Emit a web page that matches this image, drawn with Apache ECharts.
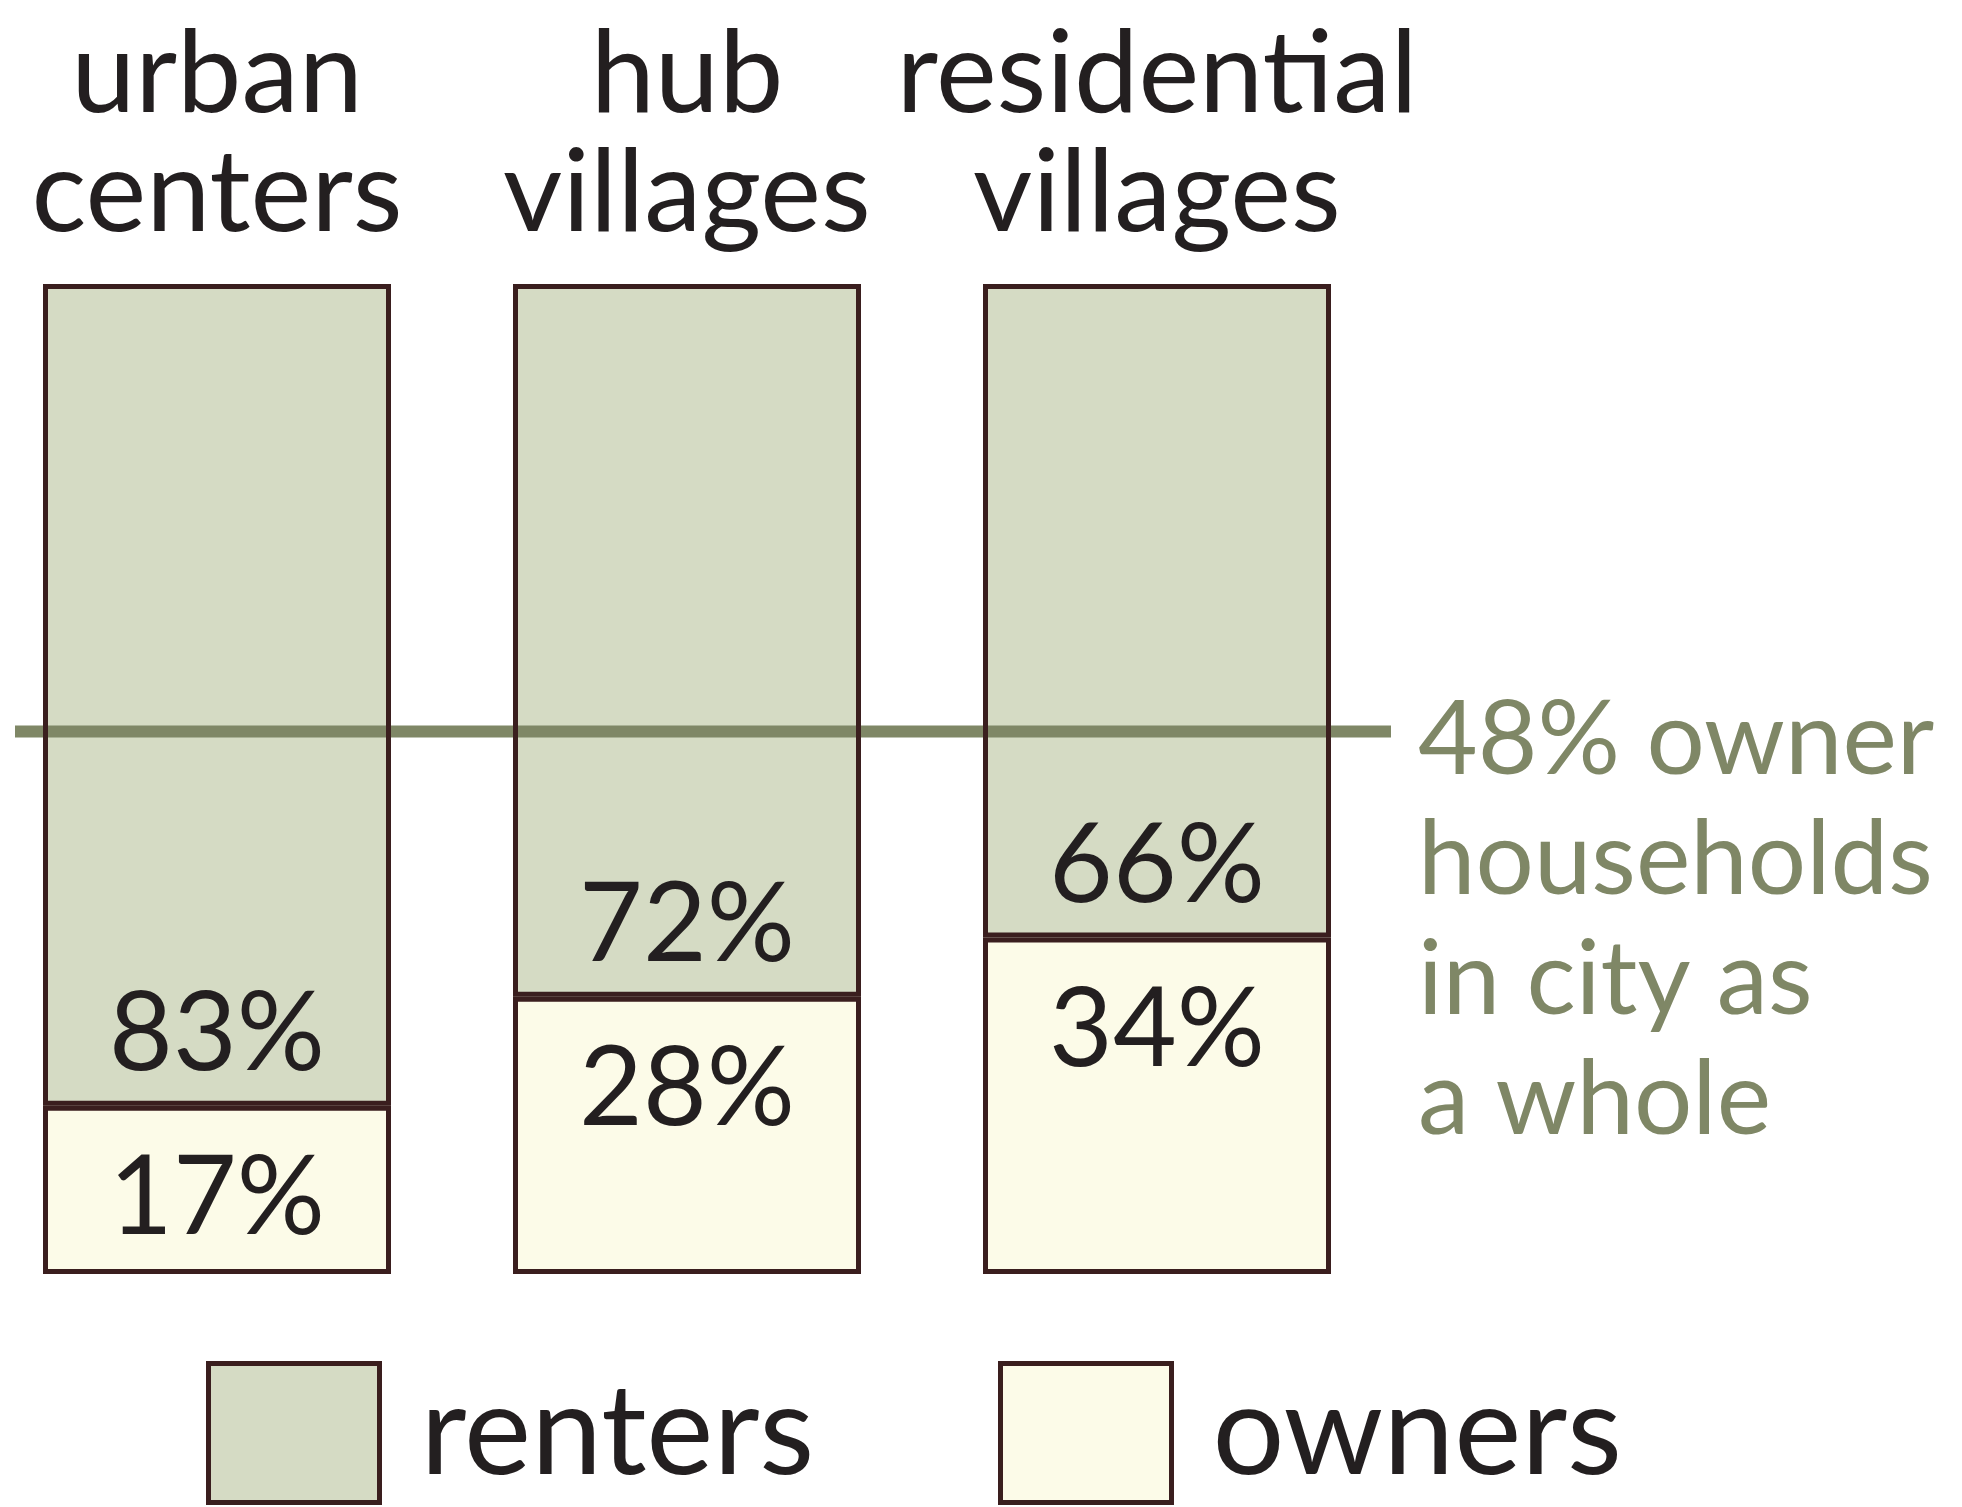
<!DOCTYPE html>
<html>
<head>
<meta charset="utf-8">
<script src="https://cdn.jsdelivr.net/npm/echarts@6/dist/echarts.min.js"></script>
<style>
  html, body { margin: 0; padding: 0; background: #fff; }
  #main { width: 1962px; height: 1507px; }
</style>
</head>
<body>
<div id="main"></div>
<script>
// categories and shares (percent of households)
var categories = ['urban\ncenters', 'hub\nvillages', 'residential\nvillages'];
var renters = [83, 72, 66];
var owners = [17, 28, 34];
// city-wide reference line, as drawn on the 0-100 bar scale
var cityLine = 54.8;
var cityNote = ['48% owner', 'households', 'in city as', 'a whole'];

var INK = '#231f20',
    EDGE = '#3a1e1e',
    OLIVE = '#7f8766',
    RENT = '#d5dbc4',
    OWN = '#fcfbe8',
    FONT = 'Lato';

var myChart = echarts.init(document.getElementById('main'));

var option = {
    animation: false,
    backgroundColor: '#fff',
    textStyle: { fontFamily: FONT },
    grid: [
        { left: -18, width: 1410, top: 284, height: 990, outerBoundsMode: 'none', containLabel: false },
        { left: 15, width: 1376, top: 284, height: 990, outerBoundsMode: 'none', containLabel: false }
    ],
    xAxis: [
        {
            type: 'category',
            data: categories,
            position: 'top',
            gridIndex: 0,
            axisLine: { show: false },
            axisTick: { show: false },
            axisLabel: {
                interval: 0,
                margin: 31,
                color: INK,
                fontFamily: FONT,
                fontSize: 115,
                lineHeight: 119
            }
        },
        { type: 'value', gridIndex: 1, min: 0, max: 1, show: false }
    ],
    yAxis: [
        { type: 'value', gridIndex: 0, min: 0, max: 100, show: false },
        { type: 'value', gridIndex: 1, min: 0, max: 100, show: false }
    ],
    legend: [
        {
            data: ['renters'],
            left: 206, top: 1361, padding: 0,
            icon: 'rect', itemWidth: 171, itemHeight: 139,
            itemStyle: { borderColor: EDGE, borderWidth: 5 },
            textStyle: { color: INK, fontFamily: FONT, fontSize: 127, padding: [0, 0, 0, 36] }
        },
        {
            data: ['owners'],
            left: 998, top: 1361, padding: 0,
            icon: 'rect', itemWidth: 171, itemHeight: 139,
            itemStyle: { borderColor: EDGE, borderWidth: 5 },
            textStyle: { color: INK, fontFamily: FONT, fontSize: 127, padding: [0, 0, 0, 36] }
        }
    ],
    series: [
        {
            name: 'owners', type: 'bar', stack: 'fill', data: owners,
            barWidth: 348, barGap: '-100%', z: 2,
            itemStyle: { color: OWN },
            label: {
                show: true, position: 'insideTop', distance: 38,
                formatter: '{c}%', color: INK, fontFamily: FONT, fontSize: 110, lineHeight: 110
            }
        },
        {
            name: 'renters', type: 'bar', stack: 'fill', data: renters,
            barWidth: 348, barGap: '-100%', z: 2,
            itemStyle: { color: RENT },
            label: {
                show: true, position: 'insideBottom', distance: 16,
                formatter: '{c}%', color: INK, fontFamily: FONT, fontSize: 110, lineHeight: 110
            }
        },
        {
            name: 'city', type: 'line', xAxisIndex: 1, yAxisIndex: 1, z: 3,
            data: [[0, cityLine], [1, cityLine]],
            symbol: 'none', silent: true,
            lineStyle: { color: OLIVE, width: 12 }
        },
        // outlines drawn above the reference line
        {
            name: 'owners edge', type: 'bar', stack: 'edge', data: owners,
            barWidth: 348, barGap: '-100%', z: 4, silent: true,
            itemStyle: { color: 'rgba(0,0,0,0)', borderColor: EDGE, borderWidth: 5 }
        },
        {
            name: 'renters edge', type: 'bar', stack: 'edge', data: renters,
            barWidth: 348, barGap: '-100%', z: 4, silent: true,
            itemStyle: { color: 'rgba(0,0,0,0)', borderColor: EDGE, borderWidth: 5 }
        }
    ],
    graphic: [
        {
            type: 'text', left: 1418, top: 681, z: 10,
            style: {
                text: cityNote.join('\n'),
                fill: OLIVE,
                font: '103px ' + FONT,
                lineHeight: 120
            }
        }
    ]
};
myChart.setOption(option);
</script>
</body>
</html>
